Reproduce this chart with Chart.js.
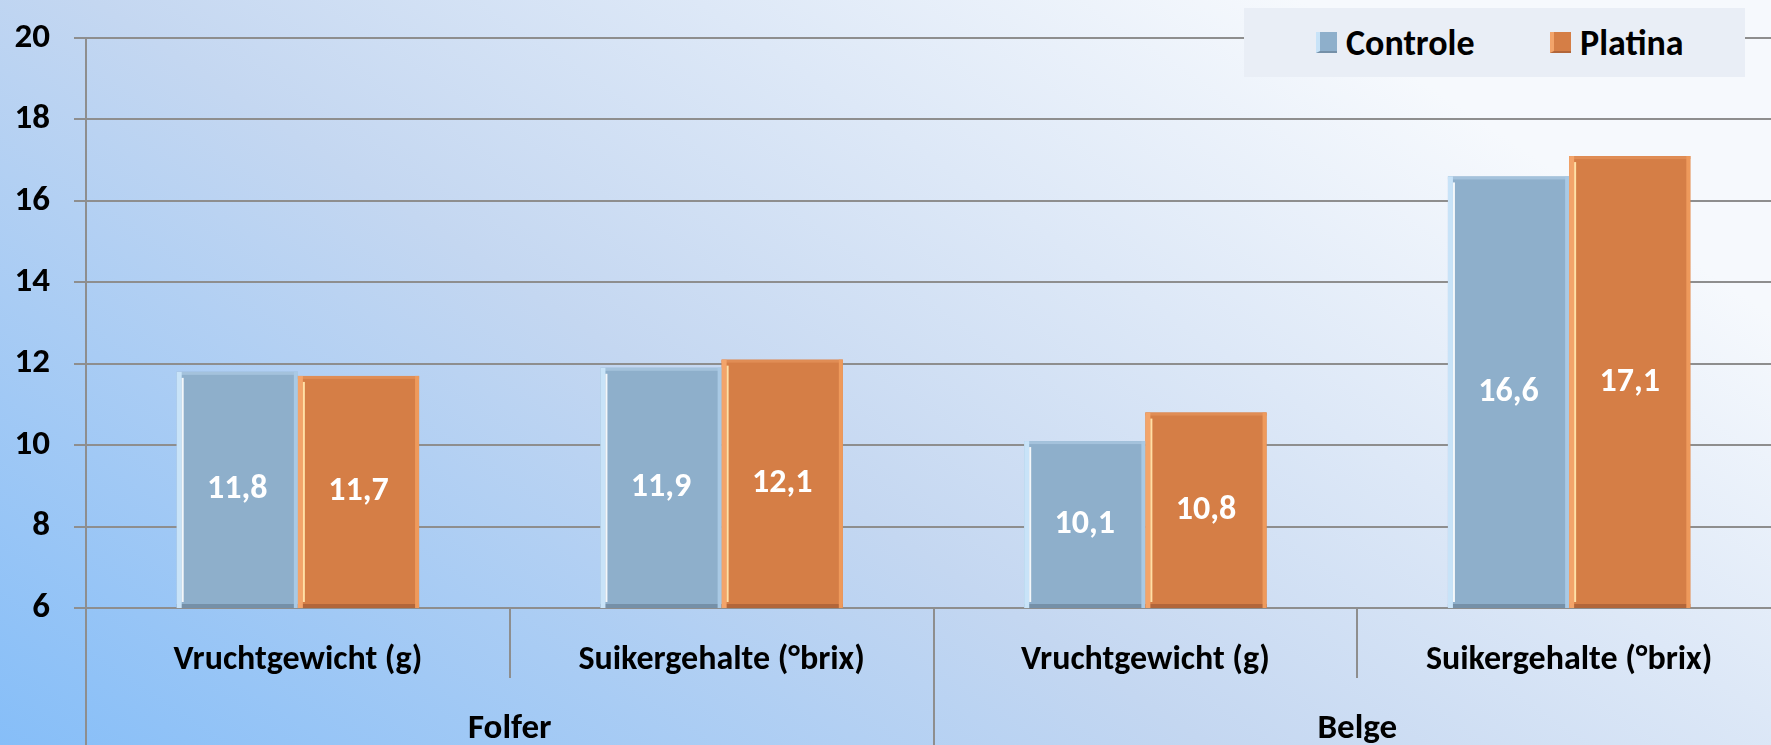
<!DOCTYPE html>
<html>
<head>
<meta charset="utf-8">
<script src="https://cdn.jsdelivr.net/npm/chart.js@4.4.1/dist/chart.umd.min.js"></script>
<style>
  html, body { margin: 0; padding: 0; width: 1771px; height: 745px; overflow: hidden; background: #C4D7F1; }
  #wrap { position: absolute; left: 0; top: 0; width: 1781px; height: 745px; }
  #legend { position: absolute; left: 1244px; top: 8px; width: 501px; height: 69px; background: #E9EEF6;
            font-family: Carlito, Lato, "Liberation Sans", sans-serif; font-weight: bold; font-size: 36px; color: #000; }
  .item { position: absolute; top: 0; height: 69px; display: flex; align-items: center; }
  .sw { width: 21px; height: 21px; margin-right: 9px; box-sizing: border-box; }
</style>
</head>
<body>
<div id="wrap"><canvas id="c"></canvas></div>
<div id="legend"></div>
<script>
// ---- data ----
const subCategories = ['Vruchtgewicht (g)', 'Suikergehalte (°brix)', 'Vruchtgewicht (g)', 'Suikergehalte (°brix)'];
const groupCategories = ['Folfer', 'Belge'];
const seriesNames = ['Controle', 'Platina'];
const controleValues = [11.8, 11.9, 10.1, 16.6];
const platinaValues = [11.7, 12.1, 10.8, 17.1];
const yMin = 6, yMax = 20, yStep = 2;

// ---- style ----
const FONT = 'Carlito, Lato, "Liberation Sans", sans-serif';
const GRID = '#8E8E8E';
const colors = ['#8EAFCB', '#D57E46'];
const bevel = [
  { left: '#C8E3F8', inner: 'rgba(255,255,255,0.9)', right: '#A9C9E4', top: '#A4C2DC', bottom: '#7590A8' },
  { left: '#F3A46A', inner: '#FFE0A6', right: '#EE9A5C', top: '#E08D55', bottom: '#B2663A' }
];

const bgPlugin = {
  id: 'bg',
  beforeDraw(chart) {
    const ctx = chart.ctx;
    const g = ctx.createLinearGradient(0, 745, 744, -371);
    g.addColorStop(0, '#86BEF8');
    g.addColorStop(0.5, '#C4D7F1');
    g.addColorStop(1, '#F6F9FD');
    ctx.save();
    ctx.fillStyle = g;
    ctx.fillRect(0, 0, chart.width, chart.height);
    ctx.restore();
  }
};

const barDeco = {
  id: 'barDeco',
  afterDatasetsDraw(chart) {
    const ctx = chart.ctx;
    const bottom = chart.chartArea.bottom;
    ctx.save();
    chart.data.datasets.forEach((ds, di) => {
      const meta = chart.getDatasetMeta(di);
      const b = bevel[di];
      meta.data.forEach((el, i) => {
        const p = el.getProps(['x', 'y', 'base', 'width'], true);
        const x = p.x, y = p.y, width = p.width;
        const base = Math.min(p.base, bottom);
        const l = x - width / 2, r = x + width / 2, h = base - y;
        ctx.fillStyle = b.top;    ctx.fillRect(l, y, width, 3);
        ctx.fillStyle = b.bottom; ctx.fillRect(l, base - 4, width, 4);
        ctx.fillStyle = b.left;   ctx.fillRect(l, y, 5, h);
        ctx.fillStyle = b.inner;  ctx.fillRect(l + 5, y + 6, 2, h - 12);
        ctx.fillStyle = b.right;  ctx.fillRect(r - 4, y, 4, h);
        // value label
        const v = ds.data[i];
        ctx.fillStyle = '#FFFFFF';
        ctx.font = 'bold 34px ' + FONT;
        ctx.textAlign = 'center';
        ctx.textBaseline = 'middle';
        ctx.fillText(v.toFixed(1).replace('.', ','), x, (y + base) / 2);
      });
    });
    ctx.restore();
  }
};

const chart = new Chart(document.getElementById('c'), {
  type: 'bar',
  data: {
    labels: subCategories,
    datasets: [
      { label: seriesNames[0], data: controleValues, backgroundColor: colors[0], borderWidth: 0 },
      { label: seriesNames[1], data: platinaValues, backgroundColor: colors[1], borderWidth: 0 }
    ]
  },
  options: {
    responsive: true,
    maintainAspectRatio: false,
    animation: false,
    devicePixelRatio: 1,
    layout: { padding: { top: 38, left: 0, right: 0, bottom: 0 } },
    datasets: { bar: { barPercentage: 1, categoryPercentage: 0.572 } },
    plugins: { legend: { display: false }, tooltip: { enabled: false } },
    scales: {
      y: {
        min: yMin, max: yMax,
        ticks: { stepSize: yStep, padding: 24, color: '#000', font: { family: FONT, size: 35, weight: 'bold' } },
        grid: { color: GRID, lineWidth: 2, tickLength: 12, drawTicks: true },
        border: { display: true, color: GRID, width: 2 },
        afterFit(s) { s.width = 86; s.paddingTop = 0; s.paddingBottom = 0; }
      },
      x: {
        offset: true,
        weight: 0,
        ticks: { padding: -38, color: '#000', font: { family: FONT, size: 34, weight: 'bold' }, maxRotation: 0, autoSkip: false },
        grid: { offset: true, drawOnChartArea: false, drawTicks: true, tickLength: 70, color: GRID, lineWidth: 2 },
        border: { display: true, color: GRID, width: 2 },
        afterFit(s) { s.height = 70; }
      },
      x2: {
        type: 'category',
        labels: groupCategories,
        position: 'bottom',
        offset: true,
        weight: 1,
        ticks: { padding: -37, color: '#000', font: { family: FONT, size: 35, weight: 'bold' }, maxRotation: 0, autoSkip: false },
        grid: { offset: true, drawOnChartArea: false, drawTicks: true, tickLength: 67, color: GRID, lineWidth: 2 },
        border: { display: false },
        afterFit(s) { s.height = 67; }
      }
    }
  },
  plugins: [bgPlugin, barDeco]
});

// legend (HTML, built from datasets)
const legend = document.getElementById('legend');
const legendX = [72, 306];
chart.data.datasets.forEach((ds, i) => {
  const item = document.createElement('div');
  item.className = 'item';
  item.style.left = legendX[i] + 'px';
  const sw = document.createElement('div');
  sw.className = 'sw';
  sw.style.background = ds.backgroundColor;
  sw.style.borderLeft = '4px solid ' + bevel[i].left;
  sw.style.borderBottom = '2px solid ' + bevel[i].bottom;
  const t = document.createElement('span');
  t.textContent = ds.label;
  item.appendChild(sw);
  item.appendChild(t);
  legend.appendChild(item);
});
</script>
</body>
</html>
